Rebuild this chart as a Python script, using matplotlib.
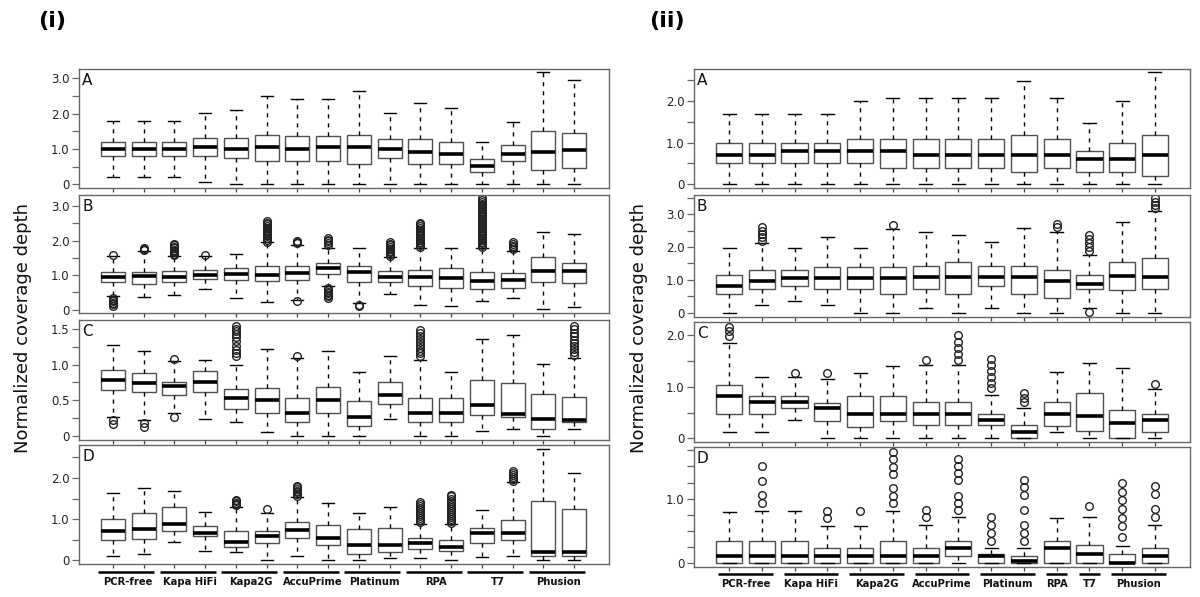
import numpy as np
import matplotlib
matplotlib.use("Agg")
import matplotlib.pyplot as plt
from matplotlib.transforms import blended_transform_factory

# ---------------------------------------------------------------- data
# one row per box: lower whisker, Q1, median, Q3, upper whisker
groups_i = ["PCR-free", "Kapa HiFi", "Kapa2G", "AccuPrime", "Platinum",
            "RPA", "T7", "Phusion"]
group_sizes_i = [2, 2, 2, 2, 2, 2, 2, 2]
groups_ii = ["PCR-free", "Kapa HiFi", "Kapa2G", "AccuPrime", "Platinum",
             "RPA", "T7", "Phusion"]
group_sizes_ii = [2, 2, 2, 2, 2, 1, 1, 2]

i_A = [[0.21, 0.81, 1.00, 1.21, 1.79], [0.21, 0.81, 1.00, 1.21, 1.79],
       [0.21, 0.81, 1.00, 1.21, 1.79], [0.06, 0.81, 1.06, 1.30, 2.03],
       [0.00, 0.76, 1.01, 1.30, 2.10], [0.00, 0.66, 1.06, 1.41, 2.50],
       [0.00, 0.66, 1.01, 1.36, 2.40], [0.00, 0.66, 1.06, 1.36, 2.40],
       [0.00, 0.57, 1.06, 1.41, 2.65], [0.00, 0.76, 1.01, 1.27, 2.01],
       [0.00, 0.57, 0.91, 1.27, 2.29], [0.00, 0.57, 0.87, 1.21, 2.15],
       [0.00, 0.35, 0.53, 0.71, 1.21], [0.00, 0.65, 0.87, 1.11, 1.75],
       [0.00, 0.42, 0.91, 1.50, 3.17], [0.00, 0.47, 0.96, 1.44, 2.95]]
i_A_out = {}

i_B = [[0.38, 0.80, 0.93, 1.10, 1.54], [0.37, 0.75, 0.98, 1.09, 1.70],
       [0.41, 0.81, 0.93, 1.12, 1.54], [0.61, 0.89, 1.01, 1.14, 1.54],
       [0.34, 0.86, 1.03, 1.20, 1.62], [0.22, 0.82, 0.99, 1.27, 1.95],
       [0.29, 0.85, 1.06, 1.27, 1.86], [0.69, 1.04, 1.19, 1.35, 1.78],
       [0.19, 0.81, 1.08, 1.27, 1.77], [0.45, 0.81, 0.93, 1.11, 1.53],
       [0.14, 0.69, 0.93, 1.15, 1.78], [0.10, 0.63, 0.90, 1.20, 1.78],
       [0.24, 0.59, 0.83, 1.08, 1.78], [0.34, 0.63, 0.86, 1.05, 1.71],
       [0.01, 0.80, 1.13, 1.51, 2.25], [0.07, 0.77, 1.12, 1.36, 2.18]]
i_B_out = {
    1: [1.59, 0.34, 0.29, 0.24, 0.19, 0.15, 0.10],
    2: [1.72, 1.75, 1.78],
    3: [1.58, 1.62, 1.66, 1.70, 1.74, 1.78, 1.82, 1.86, 1.90],
    4: [1.59],
    6: [1.97, 2.02, 2.07, 2.12, 2.17, 2.22, 2.27, 2.32, 2.37, 2.42, 2.47,
        2.52, 2.57],
    7: [1.92, 1.97, 2.00, 0.24],
    8: [1.88, 1.93, 1.98, 2.03, 2.08, 0.62, 0.57, 0.52, 0.47, 0.42, 0.38,
        0.34],
    9: [0.14, 0.10],
    10: [1.56, 1.61, 1.66, 1.71, 1.76, 1.81, 1.86, 1.91, 1.96],
    11: [1.82, 1.87, 1.92, 1.97, 2.02, 2.07, 2.12, 2.17, 2.22, 2.27, 2.32,
         2.37, 2.42, 2.47, 2.52],
    13: [1.82, 1.87, 1.92, 1.97, 2.02, 2.07, 2.12, 2.17, 2.22, 2.27, 2.32,
         2.37, 2.42, 2.47, 2.52, 2.57, 2.62, 2.67, 2.72, 2.77, 2.82, 2.87,
         2.92, 2.97, 3.02, 3.07, 3.12, 3.17, 3.22],
    14: [1.75, 1.80, 1.85, 1.90, 1.95],
}

i_C = [[0.26, 0.65, 0.79, 0.93, 1.28], [0.22, 0.61, 0.74, 0.88, 1.19],
       [0.32, 0.58, 0.70, 0.75, 1.05], [0.23, 0.62, 0.75, 0.91, 1.07],
       [0.19, 0.38, 0.53, 0.66, 0.99], [0.05, 0.32, 0.50, 0.67, 1.22],
       [0.00, 0.19, 0.32, 0.53, 1.09], [0.00, 0.32, 0.50, 0.68, 1.19],
       [0.00, 0.14, 0.27, 0.49, 0.90], [0.23, 0.45, 0.58, 0.75, 1.12],
       [0.00, 0.19, 0.32, 0.53, 1.07], [0.00, 0.19, 0.32, 0.53, 0.90],
       [0.07, 0.29, 0.43, 0.78, 1.36], [0.09, 0.26, 0.31, 0.74, 1.42],
       [0.00, 0.09, 0.23, 0.59, 1.01], [0.09, 0.19, 0.22, 0.54, 1.10]]
i_C_out = {
    1: [0.22, 0.17],
    2: [0.18, 0.12],
    3: [1.08, 0.27],
    5: [1.13, 1.17, 1.21, 1.27, 1.33, 1.39, 1.43, 1.47, 1.51, 1.55],
    7: [1.13],
    11: [1.12, 1.16, 1.20, 1.24, 1.28, 1.32, 1.36, 1.40, 1.44, 1.49],
    16: [1.14, 1.18, 1.22, 1.26, 1.30, 1.35, 1.40, 1.45, 1.50, 1.54],
}

i_D = [[0.11, 0.49, 0.72, 1.00, 1.63], [0.15, 0.52, 0.75, 1.14, 1.76],
       [0.44, 0.71, 0.89, 1.30, 1.69], [0.23, 0.59, 0.67, 0.84, 1.17],
       [0.19, 0.32, 0.44, 0.70, 1.30], [0.00, 0.41, 0.60, 0.70, 1.16],
       [0.11, 0.53, 0.73, 0.93, 1.53], [0.00, 0.36, 0.55, 0.85, 1.38],
       [0.00, 0.15, 0.36, 0.75, 1.16], [0.06, 0.19, 0.36, 0.79, 1.30],
       [0.06, 0.28, 0.41, 0.55, 0.88], [0.00, 0.23, 0.33, 0.49, 0.87],
       [0.09, 0.43, 0.66, 0.78, 1.22], [0.11, 0.49, 0.66, 0.97, 1.89],
       [0.00, 0.11, 0.19, 1.43, 2.70], [0.00, 0.11, 0.19, 1.24, 2.13]]
i_D_out = {
    5: [1.34, 1.37, 1.40, 1.44, 1.47],
    6: [1.24],
    7: [1.57, 1.61, 1.65, 1.69, 1.73, 1.77, 1.81],
    11: [0.92, 0.97, 1.02, 1.07, 1.12, 1.17, 1.22, 1.27, 1.32, 1.37, 1.42],
    12: [0.90, 0.95, 1.00, 1.05, 1.10, 1.15, 1.20, 1.25, 1.30, 1.35, 1.40,
         1.45, 1.50, 1.55, 1.59],
    14: [1.92, 1.97, 2.02, 2.07, 2.12, 2.17],
}

ii_A = [[0, 0.50, 0.70, 0.98, 1.68], [0, 0.50, 0.70, 0.98, 1.68],
        [0, 0.50, 0.79, 0.98, 1.68], [0, 0.50, 0.79, 0.98, 1.68],
        [0, 0.50, 0.79, 1.08, 2.00], [0, 0.40, 0.79, 1.08, 2.08],
        [0, 0.40, 0.70, 1.08, 2.08], [0, 0.40, 0.70, 1.08, 2.08],
        [0, 0.40, 0.70, 1.08, 2.08], [0, 0.29, 0.70, 1.19, 2.49],
        [0, 0.40, 0.70, 1.08, 2.08], [0, 0.29, 0.60, 0.79, 1.48],
        [0, 0.29, 0.60, 0.98, 2.00], [0, 0.20, 0.70, 1.19, 2.70]]
ii_A_out = {}

ii_B = [[0, 0.58, 0.81, 1.15, 1.97], [0.24, 0.71, 0.96, 1.30, 2.11],
        [0.37, 0.81, 1.06, 1.30, 1.97], [0.24, 0.71, 1.06, 1.40, 2.31],
        [0, 0.71, 1.06, 1.40, 1.97], [0, 0.58, 1.06, 1.40, 2.56],
        [0.13, 0.71, 1.08, 1.42, 2.46], [0, 0.58, 1.08, 1.53, 2.35],
        [0.13, 0.82, 1.08, 1.42, 2.14], [0, 0.58, 1.08, 1.42, 2.59],
        [0, 0.46, 0.95, 1.31, 2.46], [0.15, 0.71, 0.86, 1.16, 1.75],
        [0, 0.68, 1.12, 1.54, 2.75], [0, 0.71, 1.09, 1.67, 3.09]]
ii_B_out = {
    2: [2.19, 2.29, 2.40, 2.50, 2.61],
    6: [2.66],
    11: [2.62, 2.70],
    12: [1.88, 2.00, 2.12, 2.24, 2.36, 0.01],
    14: [3.17, 3.27, 3.38, 3.48],
}

ii_C = [[0.12, 0.47, 0.81, 1.04, 1.84], [0.12, 0.48, 0.71, 0.82, 1.18],
        [0.36, 0.59, 0.71, 0.82, 1.18], [0, 0.34, 0.58, 0.69, 1.15],
        [0, 0.22, 0.48, 0.82, 1.27], [0, 0.34, 0.48, 0.82, 1.39],
        [0, 0.25, 0.48, 0.71, 1.42], [0, 0.25, 0.48, 0.71, 1.42],
        [0, 0.25, 0.35, 0.48, 0.84], [0, 0.00, 0.13, 0.25, 0.59],
        [0.12, 0.24, 0.48, 0.71, 1.28], [0, 0.15, 0.44, 0.87, 1.45],
        [0, 0.00, 0.29, 0.55, 1.37], [0, 0.13, 0.36, 0.48, 0.95]]
ii_C_out = {
    1: [1.97, 2.07, 2.16],
    3: [1.27],
    4: [1.26],
    7: [1.52],
    8: [1.51, 1.63, 1.75, 1.87, 1.99],
    9: [0.97, 1.08, 1.19, 1.30, 1.42, 1.53],
    10: [0.71, 0.79, 0.87],
    14: [1.06],
}

ii_D = [[0, 0, 0.11, 0.34, 0.80], [0, 0, 0.12, 0.35, 0.81],
        [0, 0, 0.12, 0.34, 0.81], [0, 0, 0.12, 0.23, 0.58],
        [0, 0, 0.12, 0.23, 0.58], [0, 0, 0.12, 0.34, 0.81],
        [0, 0, 0.12, 0.23, 0.59], [0, 0.12, 0.23, 0.35, 0.71],
        [0, 0, 0.12, 0.14, 0.23], [0, 0, 0.03, 0.12, 0.23],
        [0, 0, 0.23, 0.34, 0.70], [0, 0, 0.14, 0.29, 0.72],
        [0, 0, 0.01, 0.14, 0.27], [0, 0, 0.12, 0.23, 0.59]]
ii_D_out = {
    2: [1.51, 1.28, 1.05, 0.94],
    4: [0.81, 0.70],
    5: [0.81],
    6: [1.73, 1.62, 1.49, 1.38, 1.16, 1.04, 0.93],
    7: [0.82, 0.71],
    8: [1.62, 1.51, 1.40, 1.29, 1.04, 0.93, 0.82],
    9: [0.72, 0.59, 0.47, 0.35],
    10: [1.29, 1.18, 1.06, 0.82, 0.59, 0.47, 0.35],
    12: [0.88],
    13: [1.24, 1.11, 0.98, 0.84, 0.70, 0.57, 0.41],
    14: [1.19, 1.07, 0.84, 0.72],
}

# ---------------------------------------------------------------- layout
W, H = 1200, 597
EDGE = "#505050"


def px_axes(fig, x0, x1, y0, y1):
    """axes from pixel box (top-left origin)"""
    return fig.add_axes([x0 / W, 1 - y1 / H, (x1 - x0) / W, (y1 - y0) / H])


def draw_box(ax, rows, outs, width, xlim, ylim, ticks, labels, letter):
    n = len(rows)
    pos = np.arange(1, n + 1)
    stats = []
    for k, (lo, q1, med, q3, hi) in enumerate(rows):
        stats.append(dict(whislo=lo, q1=q1, med=med, q3=q3, whishi=hi,
                          fliers=outs.get(k + 1, [])))
    ax.bxp(stats, positions=pos, widths=width, capwidths=width * 0.5,
           patch_artist=True, manage_ticks=False,
           boxprops=dict(facecolor="white", edgecolor=EDGE, linewidth=1.0),
           medianprops=dict(color="black", linewidth=2.6,
                            solid_capstyle="butt"),
           whiskerprops=dict(color="black", linewidth=1.0,
                             linestyle=(0, (3, 3.5))),
           capprops=dict(color="black", linewidth=1.0),
           flierprops=dict(marker="o", markersize=5.5, markerfacecolor="none",
                           markeredgecolor="#222222", markeredgewidth=1.0))
    ax.set_xlim(*xlim)
    ax.set_ylim(*ylim)
    ax.set_yticks(ticks)
    ax.set_yticklabels(labels)
    ax.set_xticks(pos)
    ax.set_xticklabels([])
    ax.tick_params(axis="y", length=5, width=0.9, color="#666666",
                   labelsize=8.5, labelcolor="#222222", pad=2)
    ax.tick_params(axis="x", length=3, width=0.9, color="#444444")
    for s in ax.spines.values():
        s.set_color("#666666")
        s.set_linewidth(1.0)
    ax.text(0.006, 0.97, letter, transform=ax.transAxes, ha="left",
            va="top", fontsize=11, color="#111111")
    return pos


def group_labels(ax, names, sizes, lpad, rpad, y_line, y_text):
    tr = blended_transform_factory(ax.transData, ax.transAxes)
    start = 1
    for name, sz in zip(names, sizes):
        a, b = start, start + sz - 1
        ax.plot([a - lpad, b + rpad], [y_line, y_line], color="black",
                lw=1.8, transform=tr, clip_on=False, solid_capstyle="butt")
        ax.text((a + b) / 2, y_text, name, transform=tr, ha="center",
                va="center", fontsize=7.2, fontweight="bold",
                color="#111111")
        start += sz


def lab(vals, show):
    return [("0" if v == 0 else f"{v:.1f}") if v in show else ""
            for v in vals]


fig = plt.figure(figsize=(W / 100, H / 100), dpi=100)

# panel (i)
xl_i = (-0.1, 17.13)
bw_i = 0.78
t3 = [0, 0.5, 1.0, 1.5, 2.0, 2.5, 3.0]
axA = px_axes(fig, 79, 609, 69, 188)
draw_box(axA, i_A, i_A_out, bw_i, xl_i, (-0.1, 3.26), t3,
         lab(t3, [0, 1.0, 2.0, 3.0]), "A")
axB = px_axes(fig, 79, 609, 195, 313)
draw_box(axB, i_B, i_B_out, bw_i, xl_i, (-0.1, 3.32), t3,
         lab(t3, [0, 1.0, 2.0, 3.0]), "B")
tC = [0, 0.25, 0.5, 0.75, 1.0, 1.25, 1.5]
axC = px_axes(fig, 79, 609, 320, 440)
draw_box(axC, i_C, i_C_out, bw_i, xl_i, (-0.06, 1.63), tC,
         lab(tC, [0, 0.5, 1.0, 1.5]), "C")
tD = [0, 0.5, 1.0, 1.5, 2.0, 2.5]
axD = px_axes(fig, 79, 609, 445, 564)
draw_box(axD, i_D, i_D_out, bw_i, xl_i, (-0.09, 2.8), tD,
         lab(tD, [0, 1.0, 2.0]), "D")
group_labels(axD, groups_i, group_sizes_i, 0.48, 0.35, -0.065, -0.15)

# panel (ii)
xl_ii = (-0.07, 15.07)
bw_ii = 0.8
tA2 = [0, 0.5, 1.0, 1.5, 2.0, 2.5]
ax2A = px_axes(fig, 694, 1190, 69, 188)
draw_box(ax2A, ii_A, ii_A_out, bw_ii, xl_ii, (-0.09, 2.77), tA2,
         lab(tA2, [0, 1.0, 2.0]), "A")
tB2 = [0, 0.5, 1.0, 1.5, 2.0, 2.5, 3.0, 3.5]
ax2B = px_axes(fig, 694, 1190, 195, 317)
draw_box(ax2B, ii_B, ii_B_out, bw_ii, xl_ii, (-0.13, 3.58), tB2,
         lab(tB2, [0, 1.0, 2.0, 3.0]), "B")
tC2 = [0, 0.5, 1.0, 1.5, 2.0]
ax2C = px_axes(fig, 694, 1190, 322, 442)
draw_box(ax2C, ii_C, ii_C_out, bw_ii, xl_ii, (-0.07, 2.25), tC2,
         lab(tC2, [0, 1.0, 2.0]), "C")
tD2 = [0, 0.25, 0.5, 0.75, 1.0, 1.25, 1.5, 1.75]
ax2D = px_axes(fig, 694, 1190, 447, 567)
draw_box(ax2D, ii_D, ii_D_out, bw_ii, xl_ii, (-0.057, 1.8), tD2,
         lab(tD2, [0, 1.0]), "D")
group_labels(ax2D, groups_ii, group_sizes_ii, 0.33, 0.33, -0.06, -0.14)

# titles and shared y labels
fig.text(52 / W, 1 - 21 / H, "(i)", fontsize=16, fontweight="bold",
         ha="center", va="center")
fig.text(667 / W, 1 - 21 / H, "(ii)", fontsize=16, fontweight="bold",
         ha="center", va="center")
for xp in (23, 639):
    fig.text(xp / W, 1 - 328 / H, "Normalized coverage depth", rotation=90,
             fontsize=13, ha="center", va="center", color="#111111")

fig.savefig("out.png", dpi=100)
